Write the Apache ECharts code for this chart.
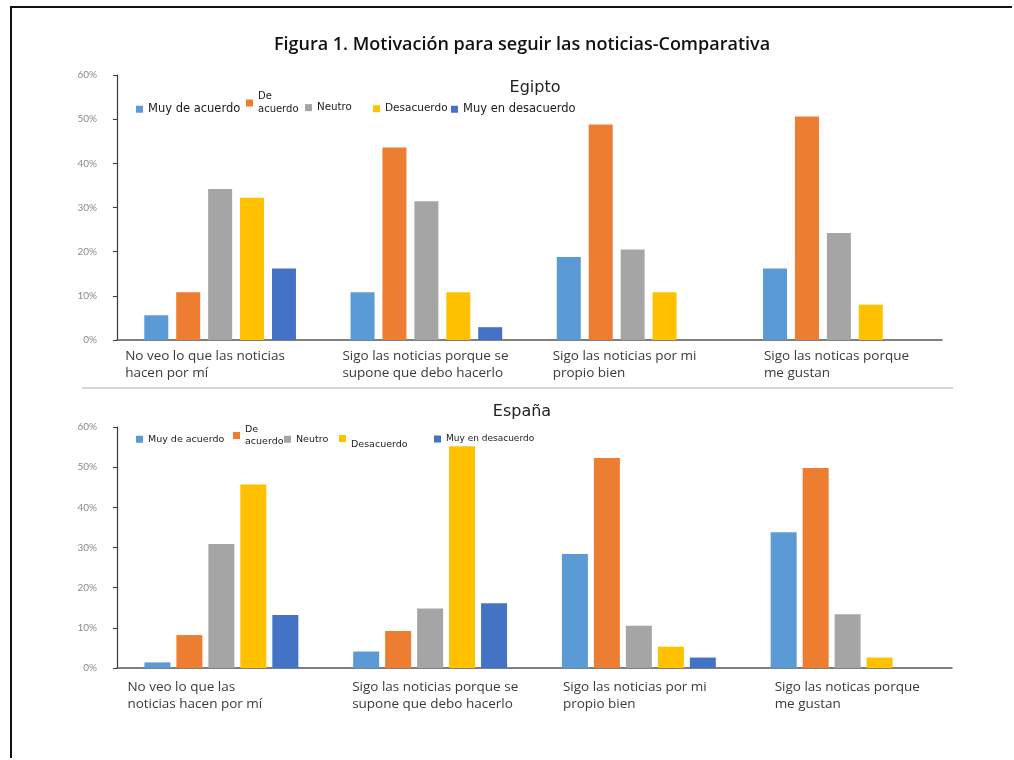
<!DOCTYPE html>
<html>
<head>
<meta charset="utf-8">
<script src="https://cdn.jsdelivr.net/npm/echarts@6/dist/echarts.min.js"></script>
<style>
  html, body { margin: 0; padding: 0; background: #fff; overflow: hidden; }
  #frame {
    position: absolute; left: 10px; top: 6px; width: 1000px; height: 750px;
    border-top: 2px solid #111; border-left: 2px solid #111;
  }
  #chart { position: absolute; left: 0; top: 0; width: 1014px; height: 760px; }
</style>
</head>
<body>
<div id="frame"></div>
<div id="chart"></div>
<script>
// Response categories (series names)
const seriesNames = ['Muy de acuerdo', 'De acuerdo', 'Neutro', 'Desacuerdo', 'Muy en desacuerdo'];
const seriesColors = ['#5B9BD5', '#ED7D31', '#A5A5A5', '#FFC000', '#4472C4'];

// Statements, as wrapped on each panel
const egyptCategories = [
  'No veo lo que las noticias\nhacen por mí',
  'Sigo las noticias porque se\nsupone que debo hacerlo',
  'Sigo las noticias por mi\npropio bien',
  'Sigo las noticas porque\nme gustan'
];
const spainCategories = [
  'No veo lo que las\nnoticias hacen por mí',
  'Sigo las noticias porque se\nsupone que debo hacerlo',
  'Sigo las noticias por mi\npropio bien',
  'Sigo las noticas porque\nme gustan'
];

// Egipto (%)
const egyptMuyDeAcuerdo   = [5.6, 10.8, 18.8, 16.2];
const egyptDeAcuerdo      = [10.8, 43.6, 48.8, 50.6];
const egyptNeutro         = [34.2, 31.4, 20.5, 24.2];
const egyptDesacuerdo     = [32.2, 10.8, 10.8, 8.0];
const egyptMuyDesacuerdo  = [16.2, 2.9, 0, 0];

// España (%)
const spainMuyDeAcuerdo   = [1.4, 4.1, 28.4, 33.8];
const spainDeAcuerdo      = [8.2, 9.2, 52.3, 49.8];
const spainNeutro         = [30.9, 14.8, 10.5, 13.4];
const spainDesacuerdo     = [45.7, 55.2, 5.3, 2.6];
const spainMuyDesacuerdo  = [13.2, 16.1, 2.6, 0];

// Y-axis ticks (%)
const yTicks = { min: 0, max: 60, interval: 10 };

const egyptValues = [egyptMuyDeAcuerdo, egyptDeAcuerdo, egyptNeutro, egyptDesacuerdo, egyptMuyDesacuerdo];
const spainValues = [spainMuyDeAcuerdo, spainDeAcuerdo, spainNeutro, spainDesacuerdo, spainMuyDesacuerdo];

const labelFont = '"Open Sans", Lato, sans-serif';
const axisFont = 'Lato, sans-serif';

// Wrapped statement labels: lines left-aligned inside a box centred on the category
function catLabel(boxWidths, margin) {
  const rich = {};
  boxWidths.forEach((w, i) => {
    rich['l' + i] = { align: 'left', width: w, fontSize: 13.5, fontFamily: labelFont, lineHeight: 17, color: '#3a3a3a' };
  });
  return {
    interval: 0,
    margin,
    formatter: (v, idx) => v.split('\n').map(l => '{l' + idx + '|' + l + '}').join('\n'),
    rich
  };
}

function valueAxis(gridIndex) {
  return {
    type: 'value', gridIndex,
    min: yTicks.min, max: yTicks.max, interval: yTicks.interval,
    axisLine: { show: true, lineStyle: { color: '#3a3a3a', width: 1.2 } },
    axisTick: { show: true, length: 4, lineStyle: { color: '#3a3a3a' } },
    splitLine: { show: false },
    axisLabel: { formatter: '{value}%', margin: 20, fontSize: 10, fontFamily: axisFont, color: '#8a8a8a' }
  };
}

function categoryAxis(gridIndex, data, boxWidths, margin) {
  return {
    type: 'category', gridIndex, data,
    axisLine: { lineStyle: { color: '#555', width: 1.5 } },
    axisTick: { show: false },
    axisLabel: catLabel(boxWidths, margin)
  };
}

const series = [];
seriesNames.forEach((name, i) => {
  series.push({
    name, type: 'bar', xAxisIndex: 0, yAxisIndex: 0,
    data: egyptValues[i], barWidth: 24, barGap: '33%',
    itemStyle: { color: seriesColors[i] }
  });
});
seriesNames.forEach((name, i) => {
  series.push({
    name, type: 'bar', xAxisIndex: 1, yAxisIndex: 1,
    data: spainValues[i], barWidth: 26, barGap: '23%',
    itemStyle: { color: seriesColors[i] }
  });
});

// One legend component per entry so each key sits where the panel places it
function legendItem(name, left, top, fontSize, formatter) {
  return {
    data: [name], left, top, padding: 0,
    icon: 'rect', itemWidth: 7, itemHeight: 7,
    selectedMode: false,
    formatter: formatter || '{name}',
    textStyle: { fontSize, fontFamily: '"DejaVu Sans", sans-serif', color: '#1a1a1a', lineHeight: fontSize + 3 }
  };
}

const legends = [
  legendItem(seriesNames[0], 136, 102, 11.5),
  legendItem(seriesNames[1], 246, 90, 10, () => 'De\nacuerdo'),
  legendItem(seriesNames[2], 305, 101, 10.3),
  legendItem(seriesNames[3], 373, 102, 10.5),
  legendItem(seriesNames[4], 451, 102, 11.5),
  legendItem(seriesNames[0], 136, 433, 9.5),
  legendItem(seriesNames[1], 233, 423, 9.5, () => 'De\nacuerdo'),
  legendItem(seriesNames[2], 284, 433, 9.5),
  legendItem(seriesNames[3], 339, 426, 9.5, () => '\nDesacuerdo'),
  legendItem(seriesNames[4], 434, 433, 9)
];

const chart = echarts.init(document.getElementById('chart'), null, { renderer: 'canvas' });
chart.setOption({
  backgroundColor: 'transparent',
  animation: false,
  title: [
    {
      text: 'Figura 1. Motivación para seguir las noticias-Comparativa',
      left: 517, top: 31, textAlign: 'center',
      textStyle: { fontSize: 18, fontWeight: 600, fontFamily: '"Open Sans", sans-serif', color: '#111' }
    },
    {
      text: 'Egipto', left: 530, top: 75, textAlign: 'center',
      textStyle: { fontSize: 16, fontWeight: 'normal', fontFamily: '"DejaVu Sans", sans-serif', color: '#222' }
    },
    {
      text: 'España', left: 517, top: 399, textAlign: 'center',
      textStyle: { fontSize: 16, fontWeight: 'normal', fontFamily: '"DejaVu Sans", sans-serif', color: '#222' }
    }
  ],
  legend: legends,
  grid: [
    { left: 117, top: 75, width: 825, height: 265 },
    { left: 117, top: 427, width: 835, height: 241 }
  ],
  xAxis: [
    categoryAxis(0, egyptCategories, [190, 168, 160, 150], 8),
    categoryAxis(1, spainCategories, [188, 156, 152, 146], 11)
  ],
  yAxis: [valueAxis(0), valueAxis(1)],
  series,
  graphic: [
    {
      type: 'line', silent: true,
      shape: { x1: 82, y1: 388, x2: 953, y2: 388 },
      style: { stroke: '#d6d6d6', lineWidth: 2 }
    }
  ]
});
</script>
</body>
</html>
